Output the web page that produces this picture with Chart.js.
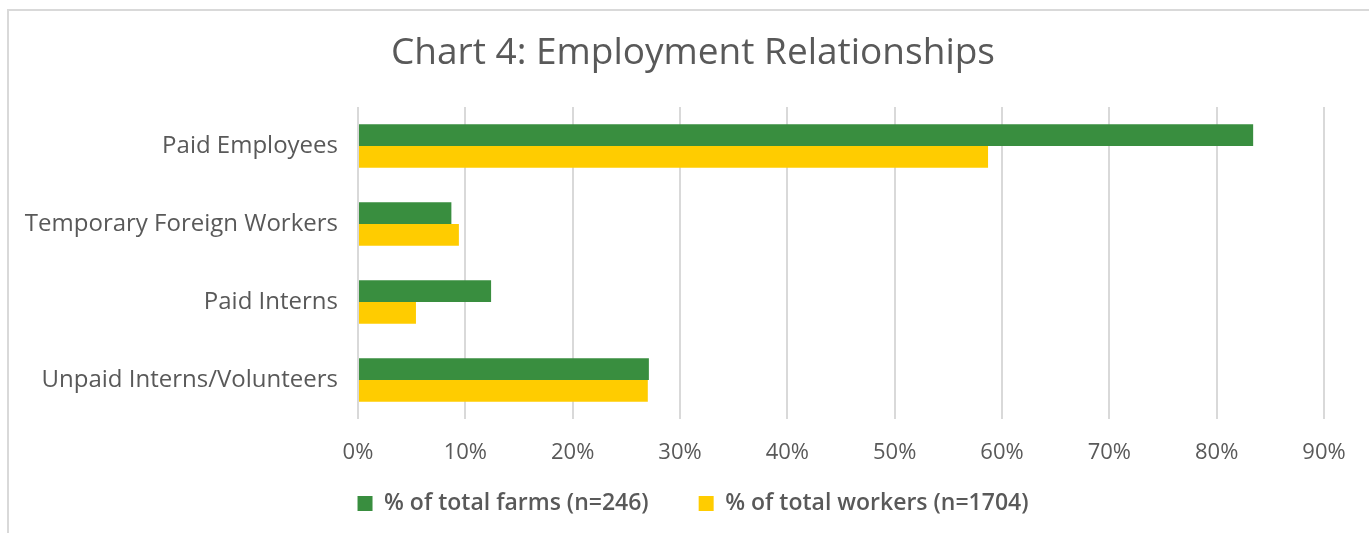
<!DOCTYPE html>
<html>
<head>
<meta charset="utf-8">
<title>Employment Relationships</title>
<script src="https://cdn.jsdelivr.net/npm/chart.js@4.4.1/dist/chart.umd.min.js"></script>
<style>
  html, body { margin: 0; padding: 0; background: #fff; }
  #wrap { width: 1369px; height: 533px; position: relative; }
</style>
</head>
<body>
<div id="wrap"><canvas id="myChart" width="1369" height="533"></canvas></div>
<script>
const categories = ['Paid Employees', 'Temporary Foreign Workers', 'Paid Interns', 'Unpaid Interns/Volunteers'];
const farmsPct = [83.4, 8.7, 12.4, 27.1];
const workersPct = [58.7, 9.4, 5.4, 27.0];
const seriesNames = ['% of total farms (n=246)', '% of total workers (n=1704)'];
const xTicks = [0, 10, 20, 30, 40, 50, 60, 70, 80, 90];

const grey = '#595959';
const fontName = "'Open Sans', Lato, sans-serif";

// light frame around the whole chart
const framePlugin = {
    id: 'frame',
    beforeDraw(chart) {
        const ctx = chart.ctx;
        ctx.save();
        ctx.strokeStyle = '#d9d9d9';
        ctx.lineWidth = 2;
        ctx.strokeRect(8, 10, chart.width + 20, chart.height + 20);
        ctx.restore();
    }
};

function renderChart() {
    const data = {
        labels: categories,
        datasets: [{
            label: seriesNames[0],
            data: farmsPct,
            backgroundColor: '#398E3F',
            borderWidth: 0,
            categoryPercentage: 0.56,
            barPercentage: 1
        }, {
            label: seriesNames[1],
            data: workersPct,
            backgroundColor: '#FFCC00',
            borderWidth: 0,
            categoryPercentage: 0.56,
            barPercentage: 1
        }]
    };

    const config = {
        type: 'bar',
        data,
        options: {
            indexAxis: 'y',
            responsive: false,
            animation: false,
            layout: { padding: { left: 20, right: 3, top: 9, bottom: 8 } },
            plugins: {
                title: {
                    display: true,
                    text: 'Chart 4: Employment Relationships',
                    color: grey,
                    font: { family: fontName, size: 37, weight: 'normal' },
                    padding: { top: 22, bottom: 31.6 }
                },
                legend: {
                    position: 'bottom',
                    labels: {
                        color: grey,
                        font: { family: fontName, size: 23, weight: '600' },
                        boxWidth: 15,
                        boxHeight: 15,
                        padding: 50
                    }
                },
                tooltip: { enabled: false }
            },
            scales: {
                x: {
                    min: 0,
                    max: 90,
                    afterBuildTicks(scale) {
                        scale.ticks = xTicks.map(v => ({ value: v }));
                    },
                    // labels are mirrored below the axis so the row can stay short
                    afterFit(scale) { scale.height = 23; },
                    grid: { color: '#d9d9d9', lineWidth: 2, drawTicks: false },
                    border: { display: false },
                    ticks: {
                        color: grey,
                        mirror: true,
                        padding: -47,
                        font: { family: fontName, size: 22 },
                        callback: v => v + '%'
                    }
                },
                y: {
                    grid: { display: false, drawTicks: false },
                    border: { display: false },
                    afterFit(scale) { scale.width = 338; },
                    ticks: {
                        color: grey,
                        padding: 20,
                        font: { family: fontName, size: 24 }
                    }
                },
                // empty strip on the right, keeps title and legend centred
                spacer: {
                    type: 'linear',
                    axis: 'y',
                    position: 'right',
                    grid: { display: false, drawTicks: false },
                    border: { display: false },
                    ticks: { display: false },
                    afterFit(scale) { scale.width = 42; }
                }
            }
        },
        plugins: [framePlugin]
    };

    new Chart(document.getElementById('myChart'), config);
}

renderChart();
</script>
</body>
</html>
